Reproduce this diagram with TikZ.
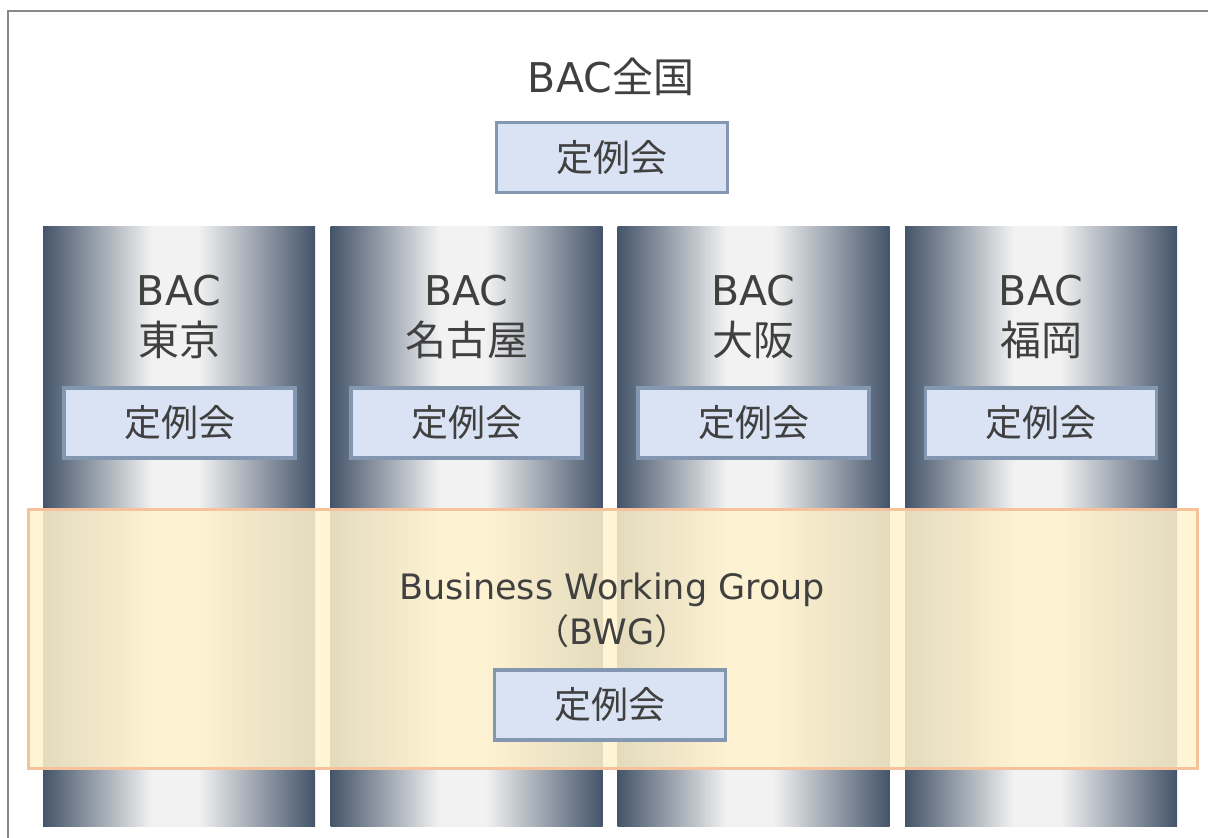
\documentclass[tikz,border=0pt]{standalone}
\usepackage{fontspec}
\setmainfont{DejaVu Sans}
\newfontfamily\cjk{Noto Sans CJK JP}
\definecolor{pdark}{HTML}{44546A}
\definecolor{plight}{HTML}{F2F2F2}
\definecolor{boxfill}{HTML}{DAE3F3}
\definecolor{boxline}{HTML}{8497B0}
\definecolor{bandfill}{HTML}{FFF2CC}
\definecolor{bandline}{HTML}{F6C29C}
\definecolor{txt}{HTML}{404040}
\definecolor{frame}{HTML}{888888}
\pgfdeclarehorizontalshading{pillarshade}{100bp}{color(0bp)=(pdark); color(25bp)=(pdark); color(45bp)=(plight); color(53.5bp)=(plight); color(75bp)=(pdark); color(100bp)=(pdark)}
\begin{document}
\begin{tikzpicture}[x=1pt,y=-1pt,
  pillar/.style={rectangle,inner sep=0pt,minimum width=272pt,minimum height=600pt,
    shading=pillarshade},
  meetbox/.style={rectangle,draw=boxline,line width=3.5pt,fill=boxfill,inner sep=0pt,
    minimum width=231pt,minimum height=70pt,text=txt,font=\cjk\fontsize{37}{44}\selectfont},
  plabel/.style={text=txt,align=center,font=\fontsize{41}{50}\selectfont,inner sep=0pt},
  band/.style={rectangle,draw=bandline,line width=3pt,fill=bandfill,fill opacity=0.86,
    inner sep=0pt,minimum width=1169pt,minimum height=259pt},
  bwgtext/.style={text=txt,align=center,font=\fontsize{35}{45}\selectfont,inner sep=0pt}]
\useasboundingbox (0,0) rectangle (1208,838);
% outer frame (cut off at right and bottom)
\draw[frame,line width=2.5pt] (8,850) -- (8,11) -- (1220,11);
% pillars
\node[pillar] (p1) at (179,526) {};
\node[pillar] (p2) at (466.5,526) {};
\node[pillar] (p3) at (753.5,526) {};
\node[pillar] (p4) at (1041,526) {};
% pillar labels
\node[plabel] (l1) at (179,317) {BAC\\{\cjk 東京}};
\node[plabel] (l2) at (466.5,317) {BAC\\{\cjk 名古屋}};
\node[plabel] (l3) at (753.5,317) {BAC\\{\cjk 大阪}};
\node[plabel] (l4) at (1041,317) {BAC\\{\cjk 福岡}};
% pillar meeting boxes
\node[meetbox] (b1) at (179.5,423) {定例会};
\node[meetbox] (b2) at (466.5,423) {定例会};
\node[meetbox] (b3) at (753.5,423) {定例会};
\node[meetbox] (b4) at (1041,423) {定例会};
% BWG band
\node[band] (bwg) at (612.5,638.5) {};
\node[bwgtext] (bwgt) at (612,610) {Business Working Group\\{\cjk （}BWG{\cjk ）}};
\node[meetbox] (bb) at (610,705) {定例会};
% national
\node[plabel] (nat) at (611,77) {BAC{\cjk 全国}};
\node[meetbox] (nb) at (612,157.5) {定例会};
\end{tikzpicture}
\end{document}
